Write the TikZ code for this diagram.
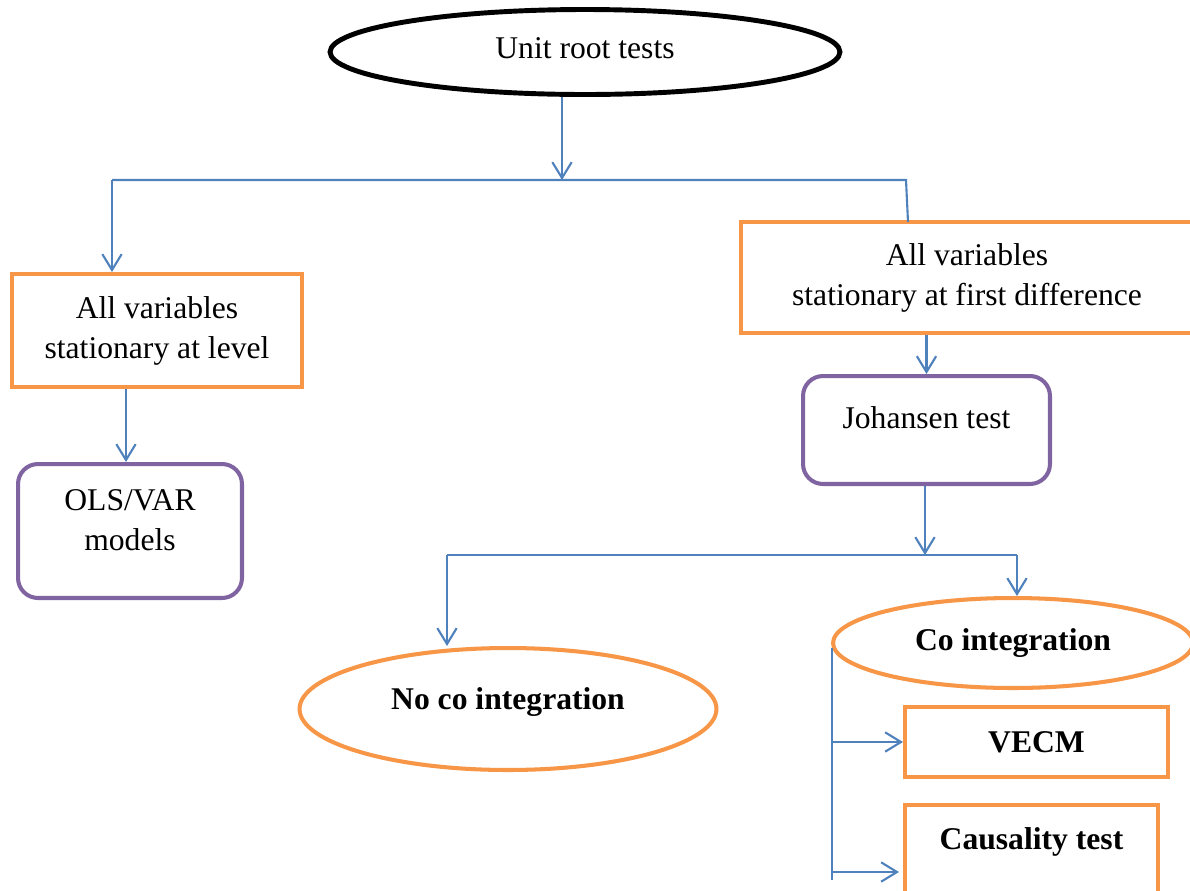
\documentclass[tikz,border=0pt]{standalone}
\usepackage{fontspec}
\setmainfont{Liberation Serif}
\usetikzlibrary{arrows.meta,calc,shapes.geometric}
\definecolor{orng}{HTML}{F79646}
\definecolor{purp}{HTML}{8064A2}
\definecolor{blu}{HTML}{4F81BD}
\tikzset{
  every node/.style={font=\fontsize{18}{22.7}\selectfont, align=center, inner sep=0pt},
  obox/.style={draw=orng, line width=2.3pt, rectangle},
  pbox/.style={draw=purp, line width=2.3pt, rectangle, rounded corners=0.4cm},
  oell/.style={draw=orng, line width=2.3pt, ellipse},
  bell/.style={draw=black, line width=2.8pt, ellipse},
  conn/.style={draw=blu, line width=1.2pt},
  arr/.style={conn, -{Straight Barb[length=9pt,width=11pt,line width=1.2pt]}}
}
\newcommand{\up}[2]{\raisebox{#1}[\height][\depth]{#2}}
\begin{document}
\begin{tikzpicture}[x=0.02cm,y=-0.02cm]
\path[use as bounding box, clip] (0,0) rectangle (1190,890);
\fill[white] (0,0) rectangle (1190,890);

\node[bell, minimum width=10.2cm, minimum height=1.7cm] (unit) at (585,52) {\up{2pt}{Unit root tests}};

\node[obox, minimum width=5.8cm, minimum height=2.26cm] (box1) at (157,330.5)
  {\up{0pt}{\begin{tabular}{@{}c@{}}All variables\\stationary at level\end{tabular}}};
\node[obox, minimum width=9.04cm, minimum height=2.22cm] (box2) at (967,277.5)
  {\up{0pt}{\begin{tabular}{@{}c@{}}All variables\\stationary at first difference\end{tabular}}};

\node[pbox, minimum width=4.48cm, minimum height=2.68cm] (ols) at (130,531)
  {\up{5pt}{\begin{tabular}{@{}c@{}}OLS/VAR\\models\end{tabular}}};
\node[pbox, minimum width=4.94cm, minimum height=2.16cm] (joh) at (926.5,430)
  {\up{7pt}{Johansen test}};

\node[oell, minimum width=8.34cm, minimum height=2.44cm] (noco) at (508,709)
  {\up{4pt}{\textbf{No co integration}}};
\node[oell, minimum width=7.2cm, minimum height=1.8cm] (co) at (1013,643)
  {\up{0pt}{\textbf{Co integration}}};

\node[obox, minimum width=5.26cm, minimum height=1.4cm] (vecm) at (1036.5,742)
  {\textbf{VECM}};
\node[obox, minimum width=5.06cm, minimum height=1.9cm] (caus) at (1031.5,852)
  {\up{6pt}{\textbf{Causality test}}};

% connectors
\coordinate (j1) at (562,180);
\coordinate (jl) at (112,180);
\coordinate (jr) at (906,180);
\coordinate (r2) at (908,222);
\draw[arr] (unit.south -| j1) -- (j1);
\draw[conn] (jl) -- (jr) -- (r2);
\draw[arr] (jl) -- (jl |- box1.north);
\draw[arr] ($(box1.south)+(-31,0)$) coordinate (a1) -- (a1 |- ols.north);
\draw[arr] (box2.south -| joh.north) -- (joh.north);

\coordinate (k1) at (925,555);
\coordinate (kl) at (447,555);
\coordinate (kr) at (1017,555);
\draw[arr] (joh.south -| k1) -- (k1);
\draw[conn] (kl) -- (kr);
\draw[arr] (kl) -- (kl |- noco.north);
\draw[arr] (kr) -- (kr |- co.north);

\coordinate (cw) at (832,648);
\draw[conn] (cw) -- (832,880);
\draw[arr] (cw |- vecm.west) -- (vecm.west);
\draw[arr] ($(cw |- caus.west)+(0,20)$) -- ($(caus.west)+(-4,20)$);
\end{tikzpicture}
\end{document}
